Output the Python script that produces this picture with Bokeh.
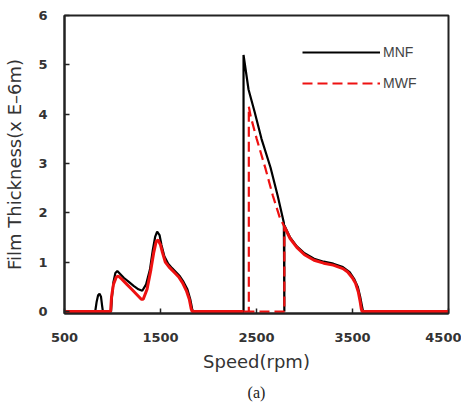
from bokeh.plotting import figure
from bokeh.models import Range1d, FixedTicker, Legend, LegendItem, Title
from bokeh.embed import file_html
from bokeh.resources import INLINE

# MNF (black solid) path
mnf_rpm = [500, 820, 835, 850, 865, 880, 893, 900, 985, 995, 1010, 1030, 1050, 1080, 1120, 1170,
           1220, 1270, 1310, 1350, 1390, 1420, 1445, 1465, 1490, 1510, 1540, 1580, 1620, 1660,
           1700, 1740, 1780, 1810, 1830, 1840, 2365, 2365, 2417, 2480, 2552, 2646, 2720, 2785, 2790, 2790,
           2850, 2920, 3000, 3100, 3200, 3300, 3400, 3470, 3520, 3555, 3580, 3600, 3610, 4500]
mnf_val = [0, 0, 0.2, 0.33, 0.36, 0.3, 0.1, 0, 0, 0.3, 0.6, 0.78, 0.82, 0.76, 0.68, 0.6,
           0.52, 0.45, 0.42, 0.55, 0.85, 1.25, 1.52, 1.62, 1.55, 1.35, 1.12, 0.97, 0.88, 0.8,
           0.72, 0.6, 0.45, 0.25, 0.05, 0, 0, 5.2, 4.5, 4.05, 3.5, 2.92, 2.35, 1.8, 0, 1.75,
           1.5, 1.32, 1.18, 1.07, 1.01, 0.97, 0.9, 0.8, 0.65, 0.5, 0.3, 0.1, 0, 0]

# MWF (red) low-speed part
mwf_low_rpm = [500, 980, 990, 1010, 1040, 1060, 1100, 1150, 1200, 1250, 1300, 1320, 1360, 1400,
               1430, 1455, 1475, 1500, 1520, 1550, 1590, 1640, 1690, 1730, 1770, 1800, 1820, 1830, 2365]
mwf_low_val = [0, 0, 0.3, 0.55, 0.7, 0.72, 0.65, 0.55, 0.45, 0.35, 0.25, 0.25, 0.45, 0.85,
               1.2, 1.42, 1.45, 1.35, 1.2, 1.0, 0.9, 0.8, 0.7, 0.58, 0.42, 0.25, 0.05, 0, 0]
# MWF jump region (dashed)
mwf_jump_rpm = [2365, 2420, 2420, 2440, 2502, 2596, 2670, 2740, 2790, 2790, 2420]
mwf_jump_val = [0, 0, 4.15, 3.95, 3.5, 2.88, 2.35, 1.92, 1.72, 0, 0]
# MWF high-speed part
mwf_high_rpm = [2790, 2850, 2920, 3000, 3100, 3200, 3300, 3400, 3450, 3500, 3530, 3560, 3580, 3592, 3600, 4500]
mwf_high_val = [1.72, 1.48, 1.3, 1.15, 1.04, 0.98, 0.94, 0.87, 0.8, 0.68, 0.58, 0.4, 0.2, 0.05, 0, 0]

x_ticks = [500, 1500, 2500, 3500, 4500]
y_ticks = [0, 1, 2, 3, 4, 5, 6]

p = figure(width=461, height=414, output_backend="svg", toolbar_location=None,
           x_range=Range1d(500, 4500), y_range=Range1d(-0.04, 6),
           min_border_left=64, min_border_right=13, min_border_top=15, min_border_bottom=101)
p.background_fill_color = "white"
p.border_fill_color = "white"
p.outline_line_color = "#222222"
p.outline_line_width = 2
p.xgrid.visible = False
p.ygrid.visible = False

p.xaxis.ticker = FixedTicker(ticks=x_ticks)
p.yaxis.ticker = FixedTicker(ticks=y_ticks)
for ax in (p.xaxis[0], p.yaxis[0]):
    ax.major_tick_in = 5
    ax.major_tick_out = 0
    ax.minor_tick_in = 0
    ax.minor_tick_out = 0
    ax.axis_line_color = "#222222"
    ax.axis_line_width = 2
    ax.major_tick_line_color = "#222222"
    ax.major_tick_line_width = 1.5
    ax.major_label_text_font = "DejaVu Sans"
    ax.major_label_text_font_size = "13px"
    ax.major_label_text_font_style = "bold"
    ax.major_label_text_color = "#333333"
    ax.axis_label_text_font = "DejaVu Sans"
    ax.axis_label_text_font_size = "18px"
    ax.axis_label_text_font_style = "normal"
    ax.axis_label_text_color = "#333333"

p.xaxis.axis_label = "Speed(rpm)"
p.yaxis.axis_label = "Film Thickness(x E\u20136m)"
p.xaxis.major_label_standoff = 19
p.yaxis.major_label_standoff = 17
p.xaxis.axis_label_standoff = 6
p.yaxis.axis_label_standoff = 10

r_mnf = p.line(mnf_rpm, mnf_val, line_color="black", line_width=2.2)
r_low = p.line(mwf_low_rpm, mwf_low_val, line_color="#ee1111", line_width=3)
r_jump = p.line(mwf_jump_rpm, mwf_jump_val, line_color="#ee1111", line_width=2.2, line_dash="10 5")
r_high = p.line(mwf_high_rpm, mwf_high_val, line_color="#ee1111", line_width=3)

legend = Legend(items=[LegendItem(label="MNF", renderers=[r_mnf]),
                       LegendItem(label="MWF", renderers=[r_jump])],
                location=(238, 220), glyph_width=78, glyph_height=20, spacing=11,
                label_standoff=3, padding=0, margin=0,
                border_line_color=None, background_fill_alpha=0,
                label_text_font="Liberation Sans", label_text_font_size="14px",
                label_text_color="#444444")
p.add_layout(legend)

cap = Title(text="(a)", align="center", text_font="Liberation Serif",
            text_font_size="16px", text_font_style="normal", text_color="#222222",
            standoff=15)
p.add_layout(cap, "below")

open("out.html", "w").write(file_html(p, INLINE))
